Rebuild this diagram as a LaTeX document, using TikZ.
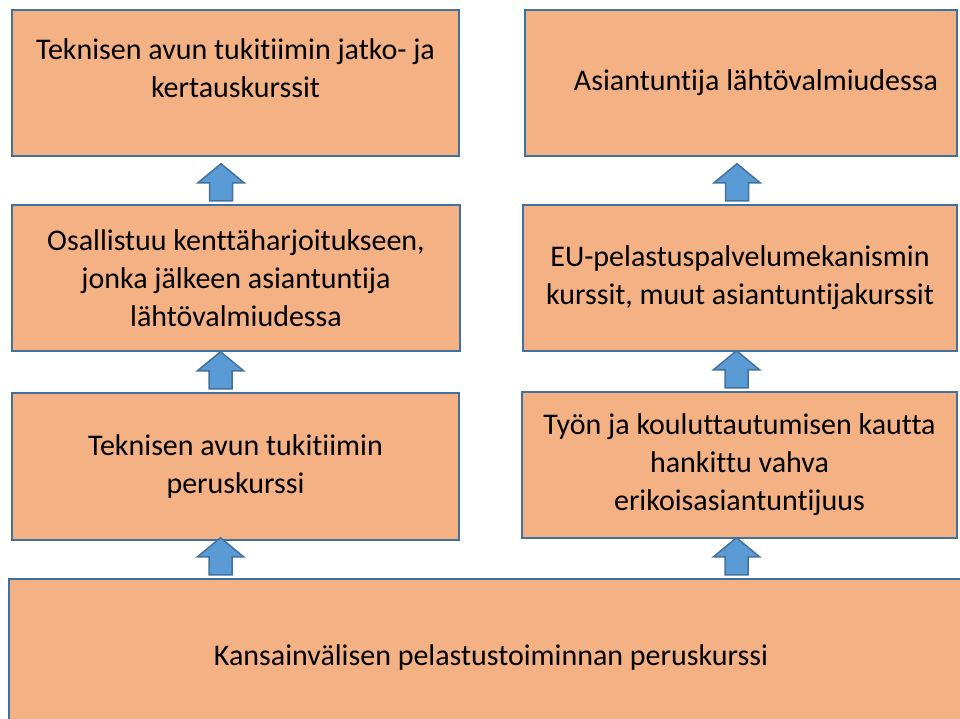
\documentclass[tikz,border=0pt]{standalone}
\usepackage{fontspec}
\setmainfont{Carlito}[Ligatures={NoCommon,NoRare}]
\usepackage{xcolor}
\usetikzlibrary{calc}
\usetikzlibrary{positioning}
\definecolor{boxfill}{HTML}{F4B183}
\definecolor{boxline}{HTML}{41719C}
\definecolor{arrowfill}{HTML}{5B9BD5}
\tikzset{
	uparrow/.pic={
		\draw[draw=boxline, fill=arrowfill, line width=1.5pt, line join=miter]
		(-11.5,0) -- (-11.5,-18) -- (-23,-18) -- (0,-37) -- (23,-18) -- (11.5,-18) -- (11.5,0) -- cycle;
	}
}

\begin{document}
\begin{tikzpicture}[x=1pt, y=-1pt, font=\fontsize{30}{38}\selectfont]
\tikzstyle{block}=[draw=boxline, fill=boxfill, rectangle, line width=2.5pt, inner sep=0pt, align=center]
\tikzstyle{annot}=[align=center, inner sep=0pt]

\useasboundingbox (0,0) rectangle (960,718);
\clip (0,0) rectangle (960,718);

% left column
\node[block, minimum width=447pt, minimum height=146pt] (tl) at (235.5,83) {};
\node[annot] at ($(tl.north)+(0,59)$) {Teknisen avun tukitiimin jatko- ja\\kertauskurssit};
\node[block, minimum width=448pt, minimum height=146pt] (ml) at (236,278) {Osallistuu kenttäharjoitukseen,\\jonka jälkeen asiantuntija\\lähtövalmiudessa};
\node[block, minimum width=447pt, minimum height=147pt] (ll) at (235.5,466.5) {Teknisen avun tukitiimin\\peruskurssi};

% right column
\node[block, minimum width=432pt, minimum height=146pt] (tr) at (741,83) {\hspace*{30pt}Asiantuntija lähtövalmiudessa};
\node[block, minimum width=434pt, minimum height=146pt] (mr) at (740,278) {EU-pelastuspalvelumekanismin\\kurssit, muut asiantuntijakurssit};
\node[block, minimum width=435pt, minimum height=146pt] (lr) at (739.5,465) {Työn ja kouluttautumisen kautta\\hankittu vahva\\erikoisasiantuntijuus};

% base
\node[block, minimum width=964pt, minimum height=156pt] (base) at (491,657) {Kansainvälisen pelastustoiminnan peruskurssi};

% block arrows
\pic at ($(ml.north)+(-15,-3)$) {uparrow};
\pic at ($(ll.north)+(-15,-3)$) {uparrow};
\pic at ($(base.north -| ll.north)+(-15,-3)$) {uparrow};
\pic at ($(mr.north)+(-3,-3)$) {uparrow};
\pic at ($(lr.north)+(-3,-3)$) {uparrow};
\pic at ($(base.north -| lr.north)+(-3,-3)$) {uparrow};
\end{tikzpicture}
\end{document}
